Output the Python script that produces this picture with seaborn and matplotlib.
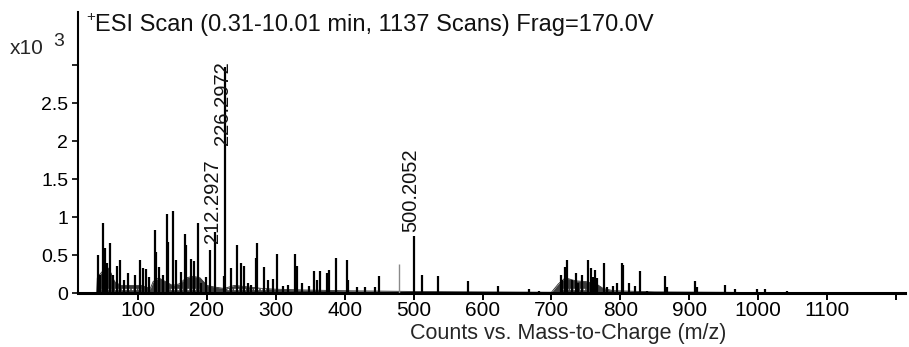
import matplotlib
matplotlib.use("Agg")
import matplotlib.pyplot as plt
import seaborn as sns
import pandas as pd

# Centroid peaks: m/z and abundance (x10^3 counts)
peak_mz = [41.9, 44.4, 49.6, 51.7, 55.0, 59.4, 64.2, 69.1, 73.9, 79.7, 85.5, 95.2,
           102.5, 107.3, 112.0, 116.0, 124.2, 126.6, 130.0, 136.3, 141.7, 143.5,
           151.2, 155.6, 162.0, 167.8, 170.1, 177.4, 181.3, 187.1, 191.9, 199.1,
           204.1, 212.2927, 224.3, 226.2972, 234.5, 243.2, 249.5, 254.3, 259.2, 264.0,
           270.8, 273.1, 282.9, 289.1, 295.5, 302.2, 310.9, 318.1, 327.9, 330.3,
           338.5, 348.2, 355.0, 359.8, 364.6, 374.3, 377.2, 386.9, 402.9, 405.2,
           417.4, 429.5, 444.0, 449.8, 500.2052, 512.3, 535.8, 578.5, 622.1, 667.5,
           682.0, 713.5, 715.8, 719.7, 723.1, 729.4, 735.2, 739.0, 744.8, 752.7,
           757.5, 760.8, 763.3, 765.7, 776.3, 780.3, 789.8, 795.6, 802.5, 804.4,
           812.2, 821.3, 828.6, 839.2, 864.9, 868.2, 908.4, 910.9, 951.8, 966.0,
           997.9, 1010.0, 1042.0]
peak_int = [0.50, 0.24, 0.92, 0.59, 0.40, 0.66, 0.24, 0.36, 0.43, 0.17, 0.26, 0.24,
            0.43, 0.33, 0.31, 0.21, 0.83, 0.54, 0.34, 0.24, 1.04, 0.67,
            1.08, 0.43, 0.28, 0.78, 0.63, 0.45, 0.42, 0.92, 0.13, 0.21,
            0.57, 0.80, 0.23, 2.97, 0.33, 0.63, 0.39, 0.36, 0.13, 0.11,
            0.46, 0.66, 0.34, 0.17, 0.18, 0.51, 0.09, 0.11, 0.51, 0.36,
            0.13, 0.09, 0.29, 0.17, 0.29, 0.26, 0.30, 0.46, 0.43, 0.17,
            0.08, 0.08, 0.08, 0.22, 0.75, 0.24, 0.22, 0.16, 0.09, 0.05,
            0.03, 0.24, 0.17, 0.34, 0.43, 0.17, 0.26, 0.13, 0.24, 0.43,
            0.33, 0.21, 0.30, 0.20, 0.40, 0.08, 0.09, 0.13, 0.40, 0.37,
            0.13, 0.09, 0.29, 0.03, 0.22, 0.08, 0.16, 0.08, 0.10, 0.05,
            0.05, 0.05, 0.03]

# Weak single line drawn in grey
faint_mz = [479.2]
faint_int = [0.38]

# Unresolved background envelope (x10^3 counts)
noise_mz = [40, 41, 45, 50, 55, 60, 66, 75, 90, 105, 118, 122, 130, 140, 150, 160,
            170, 180, 190, 200, 210, 225, 240, 260, 280, 300, 340, 400, 500, 700,
            710, 720, 735, 750, 765, 775, 790, 850, 950, 1050]
noise_lvl = [0.0, 0.20, 0.25, 0.30, 0.35, 0.28, 0.15, 0.10, 0.10, 0.10, 0.06, 0.15,
             0.20, 0.15, 0.10, 0.12, 0.20, 0.22, 0.20, 0.10, 0.08, 0.06, 0.10, 0.08,
             0.06, 0.05, 0.04, 0.03, 0.02, 0.01, 0.12, 0.20, 0.16, 0.15, 0.12, 0.06,
             0.03, 0.015, 0.01, 0.0]

# Labelled peaks and the height where each label starts
label_mz = [212.2927, 226.2972, 500.2052]
label_text = ["212.2927", "226.2972", "500.2052"]
label_base = [0.66, 1.95, 0.80]

x_ticks = [100, 200, 300, 400, 500, 600, 700, 800, 900, 1000, 1100, 1200]
x_tick_labels = ["100", "200", "300", "400", "500", "600", "700", "800", "900",
                 "1000", "1100", ""]
y_ticks = [0, 0.5, 1, 1.5, 2, 2.5, 3]
y_tick_labels = ["0", "0.5", "1", "1.5", "2", "2.5", ""]

sns.set_theme(style="ticks")
plt.rcParams["font.family"] = ["Liberation Sans", "DejaVu Sans"]

fig = plt.figure(figsize=(9.09, 3.47), dpi=100)
ax = fig.add_axes([78 / 909, 54 / 347, 827 / 909, 281 / 347])

noise = pd.DataFrame({"mz": noise_mz, "lvl": noise_lvl})
ax.fill_between(noise["mz"], 0, noise["lvl"], color="#3d3d3d", lw=0, zorder=1)
sns.lineplot(data=noise, x="mz", y="lvl", ax=ax, color="#2e2e2e", lw=0.6, zorder=2)

# white dotted trace along the base of the dense regions
for a, b in [(42, 117), (142, 190), (229, 287), (717, 760)]:
    ax.hlines(0.05, a, b, colors="white", linestyles=(0, (1.2, 1.2)), lw=1.0, zorder=3)

ax.vlines(peak_mz, 0, peak_int, colors="black", lw=1.6, zorder=4)
ax.vlines(faint_mz, 0, faint_int, colors="#8a8a8a", lw=1.0, zorder=4)

for mz, txt, yb in zip(label_mz, label_text, label_base):
    ax.annotate(txt, (mz, yb), xytext=(-2, 0), textcoords="offset points",
                rotation=90, ha="center", va="bottom", fontsize=14.5,
                color="#111111", zorder=5)

ax.set_xlim(13, 1213)
ax.set_ylim(0, 3.7)
ax.set_xticks(x_ticks)
ax.set_xticklabels(x_tick_labels, fontsize=15)
ax.set_yticks(y_ticks)
ax.set_yticklabels(y_tick_labels, fontsize=14)
ax.set_xlabel("")
ax.set_ylabel("")
ax.tick_params(axis="x", direction="out", length=5, width=1.4, pad=1, colors="black")
ax.tick_params(axis="y", direction="out", length=4.5, width=1.2, pad=2.5, colors="black")
ax.spines["top"].set_visible(False)
ax.spines["right"].set_visible(False)
ax.spines["left"].set_linewidth(1.5)
ax.spines["bottom"].set_linewidth(2.2)
ax.spines["left"].set_color("black")
ax.spines["bottom"].set_color("black")
ax.set_facecolor("white")

fig.text(86 / 909, 1 - 17 / 347, "+", fontsize=11, va="center", ha="left")
fig.text(95 / 909, 1 - 25 / 347, "ESI Scan (0.31-10.01 min, 1137 Scans) Frag=170.0V",
         fontsize=17, va="center", ha="left", color="#111111")
fig.text(10 / 909, 1 - 48 / 347, "x10", fontsize=15, va="center", ha="left")
fig.text(53 / 909, 1 - 41 / 347, "3", fontsize=14, va="center", ha="left")
fig.text(568 / 909, 1 - 333 / 347, "Counts vs. Mass-to-Charge (m/z)",
         fontsize=15.5, va="center", ha="center")

fig.savefig("out.png", dpi=100, facecolor="white")
